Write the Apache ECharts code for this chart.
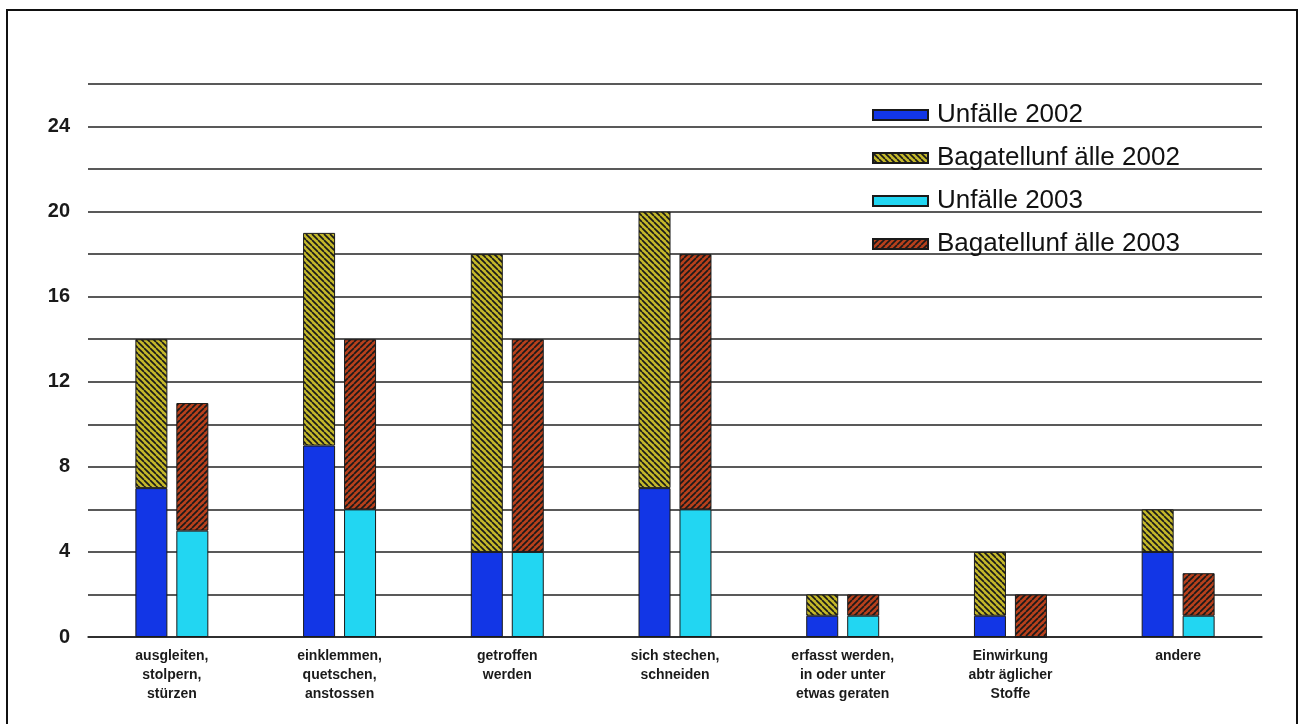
<!DOCTYPE html>
<html lang="de" style="height: 100%">
<head>
  <meta charset="utf-8">
</head>
<body style="height: 100%; margin: 0; background: #fff">
  <div id="container" style="width: 1304px; height: 724px"></div>
  <script type="text/javascript" src="https://fastly.jsdelivr.net/npm/echarts@6/dist/echarts.min.js"></script>
  <script type="text/javascript">
    var categories = [
      'ausgleiten,\nstolpern,\nstürzen',
      'einklemmen,\nquetschen,\nanstossen',
      'getroffen\nwerden',
      'sich stechen,\nschneiden',
      'erfasst werden,\nin oder unter\netwas geraten',
      'Einwirkung\nabtr äglicher\nStoffe',
      'andere'
    ];
    var unfaelle2002 = [7, 9, 4, 7, 1, 1, 4];
    var bagatell2002 = [7, 10, 14, 13, 1, 3, 2];
    var unfaelle2003 = [5, 6, 4, 6, 1, 0, 1];
    var bagatell2003 = [6, 8, 10, 12, 1, 2, 2];

    // hatched fill, dir 1 = "\\", dir -1 = "//"
    function hatch(bg, dir) {
      var s = 6;
      var c = document.createElement('canvas');
      c.width = s; c.height = s;
      var ctx = c.getContext('2d');
      ctx.fillStyle = bg;
      ctx.fillRect(0, 0, s, s);
      ctx.strokeStyle = '#1a1a1a';
      ctx.lineWidth = 1.7;
      for (var k = -1; k <= 1; k++) {
        ctx.beginPath();
        if (dir > 0) {
          ctx.moveTo(k * s, 0); ctx.lineTo(k * s + s, s);
        } else {
          ctx.moveTo(k * s, s); ctx.lineTo(k * s + s, 0);
        }
        ctx.stroke();
      }
      return { image: c, repeat: 'repeat' };
    }

    var dom = document.getElementById('container');
    var myChart = echarts.init(dom, null, { renderer: 'canvas' });

    var border = { borderColor: '#1a1a1a', borderWidth: 1 };
    function bar(name, stack, data, color) {
      return {
        name: name,
        type: 'bar',
        stack: stack,
        data: data,
        barWidth: 32,
        barGap: '28%',
        itemStyle: Object.assign({ color: color }, border)
      };
    }

    var option = {
      animation: false,
      backgroundColor: '#fff',
      graphic: [{
        type: 'rect',
        shape: { x: 7, y: 10, width: 1290, height: 730 },
        style: { fill: 'none', stroke: '#111', lineWidth: 2 }
      }],
      grid: { left: 88, right: 42, top: 84, bottom: 87 },
      legend: {
        orient: 'vertical',
        left: 867,
        top: 97,
        itemWidth: 55,
        itemHeight: 10,
        itemGap: 17,
        icon: 'rect',
        textStyle: {
          fontFamily: 'Liberation Sans, Arial',
          fontSize: 26,
          color: '#111',
          padding: [0, 0, 0, 4]
        }
      },
      xAxis: {
        type: 'category',
        data: categories,
        axisTick: { show: false },
        axisLine: { lineStyle: { color: '#222', width: 1.5 } },
        axisLabel: {
          interval: 0,
          margin: 10,
          fontFamily: 'Liberation Sans, Arial',
          fontWeight: 'bold',
          fontSize: 14,
          lineHeight: 19,
          color: '#1a1a1a'
        }
      },
      yAxis: {
        type: 'value',
        min: 0,
        max: 26,
        interval: 2,
        axisLine: { show: false },
        axisTick: { show: false },
        splitLine: { lineStyle: { color: '#222', width: 1.5 } },
        axisLabel: {
          margin: 18,
          fontFamily: 'Liberation Sans, Arial',
          fontWeight: 'bold',
          fontSize: 20,
          color: '#1a1a1a',
          formatter: function (v) { return v % 4 === 0 ? String(v) : ''; }
        }
      },
      series: [
        bar('Unfälle 2002', 'a', unfaelle2002, '#1236e6'),
        bar('Bagatellunf älle 2002', 'a', bagatell2002, hatch('#c4b82a', 1)),
        bar('Unfälle 2003', 'b', unfaelle2003, '#22d6f2'),
        bar('Bagatellunf älle 2003', 'b', bagatell2003, hatch('#b8401c', -1))
      ]
    };

    myChart.setOption(option);
    window.addEventListener('resize', myChart.resize);
  </script>
</body>
</html>
